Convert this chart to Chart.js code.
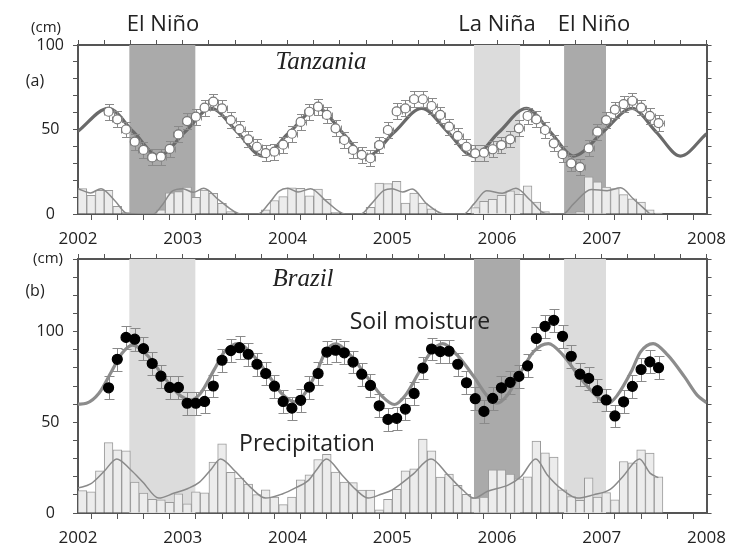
<!DOCTYPE html>
<html>
<head>
<meta charset="utf-8">
<script src="https://cdn.jsdelivr.net/npm/chart.js@4.4.0/dist/chart.umd.min.js"></script>
<style>
  body { margin: 0; background: #fff; }
  #wrap { position: relative; width: 735px; height: 552px; font-family: "Open Sans", sans-serif; color: #222; }
  canvas { position: absolute; left: 0; top: 0; }
  .lbl { position: absolute; transform: translate(-50%, -50%); white-space: nowrap; line-height: 1; }
  .place { font-family: "Liberation Serif", serif; font-style: italic; font-size: 25px; }
</style>
</head>
<body>
<div id="wrap">
  <canvas id="chartA" width="735" height="552"></canvas>
  <canvas id="chartB" width="735" height="552"></canvas>

  <div class="lbl" style="left:46px;top:26px;font-size:15px">(cm)</div>
  <div class="lbl" style="left:35px;top:80px;font-size:16px">(a)</div>
  <div class="lbl" id="enso0" style="left:163px;top:22px;font-size:22px"></div>
  <div class="lbl" id="enso1" style="left:497px;top:22px;font-size:22px"></div>
  <div class="lbl" id="enso2" style="left:594px;top:22px;font-size:22px"></div>
  <div class="lbl place" style="left:321px;top:60px">Tanzania</div>

  <div class="lbl" style="left:48px;top:257px;font-size:15px">(cm)</div>
  <div class="lbl" style="left:35px;top:290px;font-size:16px">(b)</div>
  <div class="lbl place" style="left:303px;top:277px">Brazil</div>
  <div class="lbl" style="left:420px;top:320px;font-size:23px">Soil moisture</div>
  <div class="lbl" style="left:307px;top:442px;font-size:23px">Precipitation</div>
</div>

<script>
// ENSO periods (decimal years)
const ensoLabels = ['El Niño', 'La Niña', 'El Niño'];
const ensoStart = [2002.49, 2005.78, 2006.64];
const ensoEnd = [2003.12, 2006.22, 2007.04];

// monthly precipitation, Jan 2002 - Jul 2007 (cm)
const tzPrecip = [
  15, 11, 14, 14, 4.5, 1, 0, 0, 0, 2.5, 12.6, 13.2,
  16, 9.9, 14.2, 12.2, 6.3, 1.5, 0, 0, 0, 2.4, 8, 10.3,
  15.5, 15.2, 10.7, 14.8, 8.7, 1, 0, 0, 0, 4, 18.3, 18,
  19.3, 6.4, 12.4, 6.4, 3, 0.5, 0, 0, 0, 3.8, 7.5, 8.7,
  11, 13.7, 11.7, 16.6, 7, 1.5, 0, 0, 0, 1.5, 22, 19.1,
  16, 15, 11.5, 9, 7, 2.5, 0.5
];
const brPrecip = [
  12.3, 11.7, 23.3, 38.8, 34.8, 34.2, 17, 11, 7.5, 7.3, 5.9, 10.5,
  5, 11.7, 11.1, 28, 38.1, 22.4, 19.2, 15.9, 10.1, 12.8, 8.8, 4.6,
  8.8, 18.3, 21, 29.5, 32.4, 22.5, 17, 16.7, 12.7, 12.6, 1.8, 7.6,
  13, 23.3, 24.3, 40.7, 34.2, 19.8, 21.5, 15.2, 10.3, 8.2, 8.8, 23.8,
  23.8, 21.5, 18.8, 20, 39.6, 33.1, 30.8, 12.8, 9.1, 7, 19.4, 8.8,
  11.2, 7.3, 28.4, 27.6, 34.8, 33, 20
];

// monthly soil moisture, Apr 2002 - Jul 2007 (cm)
const tzSoil = [
  60.5, 56, 50, 42.8, 37.9, 33.5, 33.9, 38.5, 47.1, 55, 57.6, 62.9, 66.5, 62.5, 55.6,
  50.2, 44.2, 39.8, 36, 36.9, 41, 47.5, 54.5, 60.5, 63.5, 58.6, 50.7, 43.8, 37.9, 35,
  33, 40.8, 49.7, 60.7, 62.5, 67.9, 67.9, 63.9, 58.6, 51.7, 46.2, 39.8, 35.9, 36.3, 38.3,
  40.8, 44.2, 50.7, 58, 56, 49.7, 41.8, 35.4, 30, 27.7, 38.9, 48.7, 55.6, 61.8, 65, 67, 63, 58.1, 53.8
];
const brSoil = [
  69, 84.7, 96.8, 95.8, 90.6, 82.4, 75.4, 69.2, 69.2, 60.5, 60.5, 61.5, 70, 84.2, 89.5,
  91.1, 87.5, 82, 76.9, 69.9, 61.5, 57.8, 62.1, 69.4, 76.9, 88.7, 89.7, 88.3, 83.2, 76.5,
  70.3, 59.1, 51.6, 52.2, 57.3, 65.9, 79.9, 90.4, 89, 89.2, 82, 71.8, 63, 56, 63.2,
  69, 72, 75.3, 81.1, 96.2, 102.9, 106.2, 97.4, 86.4, 76.5, 74.2, 67.4, 62.3, 53.5, 61.3, 69.8, 79.1, 83.3, 80.1
];
const tzSoilErr = 4.7;
const brSoilErr = 6.3;

// smoothed precipitation curves
const tzRainYears = [2002.00, 2002.12, 2002.22, 2002.35, 2002.47, 2002.72, 2002.80, 2002.90, 2003.00, 2003.10,
  2003.20, 2003.35, 2003.56, 2003.72, 2003.82, 2003.92, 2004.00, 2004.10, 2004.22, 2004.38,
  2004.55, 2004.70, 2004.80, 2004.92, 2005.00, 2005.10, 2005.19, 2005.33, 2005.50, 2005.68,
  2005.78, 2005.90, 2006.05, 2006.18, 2006.32, 2006.46, 2006.63, 2006.73, 2006.90, 2007.05,
  2007.18, 2007.30, 2007.46];
const tzRainCurve = [15, 12.5, 15, 8, 0.3, 0, 5, 13.5, 15, 12.8,
  15.2, 8, 0, 0, 6, 13.5, 15.2, 13, 15, 7,
  0, 0, 6, 14, 15, 13, 14.8, 6, 0, 0,
  6, 13.8, 12.3, 15.2, 8, 0.3, 0, 6, 14.5, 13.8,
  15.5, 9, 0];
const brRainYears = [2002.00, 2002.12, 2002.25, 2002.37, 2002.50, 2002.62, 2002.77, 2002.92, 2003.05, 2003.16,
  2003.27, 2003.36, 2003.50, 2003.65, 2003.79, 2003.95, 2004.08, 2004.20, 2004.28, 2004.37,
  2004.52, 2004.65, 2004.77, 2004.90, 2005.00, 2005.19, 2005.37, 2005.53, 2005.67, 2005.78,
  2005.91, 2006.11, 2006.23, 2006.37, 2006.48, 2006.62, 2006.77, 2006.92, 2007.08, 2007.20,
  2007.36, 2007.46, 2007.54];
const brRainCurve = [13.7, 16, 23, 29.8, 24, 17, 8.2, 11, 13.5, 17,
  24, 29.8, 23, 14, 8.2, 10.5, 14, 18, 24, 29.8,
  21, 13, 8.2, 10.5, 12.8, 21, 29.8, 21, 12.8, 8.2,
  12, 15.5, 20.1, 29.8, 21, 13, 8.2, 10, 13, 20,
  29.8, 22, 19.5];

// fitted seasonal soil moisture curves
const tzFitYears = [2002.00, 2002.29, 2002.53, 2002.77, 2003.02, 2003.27, 2003.52, 2003.76, 2004.02, 2004.29,
  2004.52, 2004.76, 2005.02, 2005.28, 2005.53, 2005.77, 2006.02, 2006.28, 2006.51, 2006.73,
  2007.01, 2007.29, 2007.52, 2007.75, 2008.00];
const tzFitValues = [49, 62.5, 48.5, 34.5, 48.5, 62.5, 48.5, 34.3, 48.5, 62.5,
  48.5, 34.3, 48.5, 62.5, 48.5, 34.3, 48.5, 62.5, 48.5, 34.3,
  48.5, 62.5, 48.5, 34.3, 47.5];
const brFitYears = [2002.00, 2002.08, 2002.20, 2002.32, 2002.42, 2002.52, 2002.66, 2002.82, 2002.96, 2003.08,
  2003.17, 2003.30, 2003.40, 2003.53, 2003.67, 2003.83, 2003.95, 2004.07, 2004.16, 2004.28,
  2004.36, 2004.46, 2004.60, 2004.76, 2004.90, 2005.02, 2005.12, 2005.25, 2005.36, 2005.48,
  2005.62, 2005.78, 2005.90, 2006.00, 2006.10, 2006.23, 2006.35, 2006.49, 2006.63, 2006.80,
  2006.95, 2007.06, 2007.15, 2007.28, 2007.37, 2007.49, 2007.63, 2007.79, 2007.91, 2008.00];
const brFitValues = [60, 60.5, 66, 78, 88, 92.5, 87, 75, 65.5, 62.3,
  66, 79, 89, 93.4, 87, 75, 65.5, 61.3, 65.5, 78,
  88.5, 93.2, 87, 75, 64.5, 59.8, 64.5, 77, 88, 93.4,
  87, 75, 65, 60.5, 65, 78, 89, 93.4, 87, 74,
  64.5, 60.4, 65, 77.8, 88.8, 93.4, 87, 75, 65, 60.8];

const precipStartYear = 2002, precipStartMonth = 0;
const soilStartYear = 2002, soilStartMonth = 3;

const DARK = '#aaaaaa';
const LIGHT = '#dcdcdc';
const AXIS = '#555555';

function monthly(values, year, month) {
  return values.map((v, i) => ({ x: year + (month + i + 0.5) / 12, y: v }));
}
function pairs(xs, ys) {
  return xs.map((x, i) => ({ x: x, y: ys[i] }));
}

// shaded ENSO bands behind the data
const bandsPlugin = {
  id: 'ensoBands',
  beforeDatasetsDraw(chart, args, opts) {
    const { ctx, chartArea, scales } = chart;
    ctx.save();
    opts.colors.forEach((c, i) => {
      const x0 = scales.x.getPixelForValue(ensoStart[i]);
      const x1 = scales.x.getPixelForValue(ensoEnd[i]);
      ctx.fillStyle = c;
      ctx.fillRect(x0, chartArea.top, x1 - x0, chartArea.bottom - chartArea.top);
    });
    ctx.restore();
  }
};

// error bars drawn just before the point dataset
const errorBarPlugin = {
  id: 'errorBars',
  beforeDatasetDraw(chart, args) {
    const ds = chart.data.datasets[args.index];
    if (!ds.errorBar) return;
    const eb = ds.errorBar;
    const ctx = chart.ctx, xs = chart.scales.x, ys = chart.scales.y;
    ctx.save();
    ctx.strokeStyle = eb.color;
    ctx.lineWidth = 1;
    ctx.beginPath();
    ds.data.forEach(p => {
      const px = Math.round(xs.getPixelForValue(p.x)) + 0.5;
      const py = Math.round(ys.getPixelForValue(p.y)) + 0.5;
      const top = Math.round(ys.getPixelForValue(p.y + eb.err)) + 0.5;
      const bot = Math.round(ys.getPixelForValue(p.y - eb.err)) + 0.5;
      ctx.moveTo(px, top); ctx.lineTo(px, bot);
      ctx.moveTo(px - eb.cap, top); ctx.lineTo(px + eb.cap, top);
      ctx.moveTo(px - eb.cap, bot); ctx.lineTo(px + eb.cap, bot);
      if (eb.arm) {
        ctx.moveTo(px - eb.arm, py); ctx.lineTo(px + eb.arm, py);
        ctx.moveTo(px - eb.arm, py - 3); ctx.lineTo(px - eb.arm, py + 3);
        ctx.moveTo(px + eb.arm, py - 3); ctx.lineTo(px + eb.arm, py + 3);
      }
    });
    ctx.stroke();
    ctx.restore();
  }
};

Chart.defaults.font.family = '"Open Sans", sans-serif';
Chart.defaults.color = '#222';

function buildScales(yMax, topSpace, bottomSpace) {
  const tickGrid = { drawOnChartArea: false, drawTicks: true, tickLength: 5, color: AXIS, lineWidth: 1 };
  const border = { display: true, color: AXIS, width: 2 };
  return {
    x: {
      type: 'linear', axis: 'x', position: 'bottom', min: 2002, max: 2008, offset: false,
      grid: Object.assign({}, tickGrid, { tickLength: 6 }), border: border,
      ticks: {
        stepSize: 0.25, autoSkip: false, maxRotation: 0, padding: 9, font: { size: 17 },
        callback: v => Number.isInteger(v) ? String(v) : ''
      },
      afterFit: s => { s.height = bottomSpace; }
    },
    xTop: {
      type: 'linear', axis: 'x', position: 'top', min: 2002, max: 2008, offset: false,
      grid: tickGrid, border: border,
      ticks: { stepSize: 0.25, autoSkip: false, display: false },
      afterFit: s => { s.height = topSpace; }
    },
    y: {
      type: 'linear', axis: 'y', position: 'left', min: 0, max: yMax,
      grid: tickGrid, border: border,
      ticks: {
        stepSize: 10, autoSkip: false, padding: 9, crossAlign: 'center', font: { size: 16 },
        callback: v => v % 50 === 0 ? String(v) : ''
      },
      afterFit: s => { s.width = 78; }
    },
    yRight: {
      type: 'linear', axis: 'y', position: 'right', min: 0, max: yMax,
      grid: tickGrid, border: border,
      ticks: { stepSize: 10, autoSkip: false, display: false },
      afterFit: s => { s.width = 24; }
    }
  };
}

function makePanel(id, cfg) {
  return new Chart(document.getElementById(id), {
    type: 'scatter',
    data: {
      datasets: [
        {
          type: 'bar', data: monthly(cfg.precip, precipStartYear, precipStartMonth),
          backgroundColor: '#ececec', borderColor: '#9a9a9a', borderWidth: 1,
          barPercentage: 1, categoryPercentage: 1, order: 4
        },
        {
          type: 'line', data: pairs(cfg.rainYears, cfg.rainCurve),
          borderColor: '#8a8a8a', borderWidth: 1.5, pointRadius: 0,
          cubicInterpolationMode: 'monotone', fill: false, order: 3
        },
        {
          type: 'line', data: pairs(cfg.fitYears, cfg.fitValues),
          borderColor: cfg.fitColor, borderWidth: 3.2, pointRadius: 0,
          cubicInterpolationMode: 'monotone', fill: false, order: 2
        },
        {
          type: 'scatter', data: monthly(cfg.soil, soilStartYear, soilStartMonth),
          pointRadius: cfg.pointRadius, pointBackgroundColor: cfg.pointFill,
          pointBorderColor: cfg.pointBorder, pointBorderWidth: 1.2,
          errorBar: cfg.errorBar, order: 1
        }
      ]
    },
    options: {
      responsive: false,
      animation: false,
      events: [],
      layout: { padding: 0 },
      plugins: {
        legend: { display: false },
        tooltip: { enabled: false },
        ensoBands: { colors: cfg.bandColors }
      },
      scales: buildScales(cfg.yMax, cfg.topSpace, cfg.bottomSpace)
    },
    plugins: [bandsPlugin, errorBarPlugin]
  });
}

ensoLabels.forEach((t, i) => { document.getElementById('enso' + i).textContent = t; });

makePanel('chartA', {
  precip: tzPrecip, soil: tzSoil,
  rainYears: tzRainYears, rainCurve: tzRainCurve,
  fitYears: tzFitYears, fitValues: tzFitValues,
  fitColor: '#6a6a6a', pointRadius: 4.5, pointFill: '#ffffff', pointBorder: '#777777',
  errorBar: { err: tzSoilErr, cap: 4.5, arm: 5, color: '#8a8a8a' },
  bandColors: [DARK, LIGHT, DARK],
  yMax: 100, topSpace: 45, bottomSpace: 552 - 214
});

makePanel('chartB', {
  precip: brPrecip, soil: brSoil,
  rainYears: brRainYears, rainCurve: brRainCurve,
  fitYears: brFitYears, fitValues: brFitValues,
  fitColor: '#8c8c8c', pointRadius: 5, pointFill: '#000000', pointBorder: '#000000',
  errorBar: { err: brSoilErr, cap: 5, arm: 0, color: '#8a8a8a' },
  bandColors: [LIGHT, DARK, LIGHT],
  yMax: 140, topSpace: 259, bottomSpace: 552 - 513
});
</script>
</body>
</html>
